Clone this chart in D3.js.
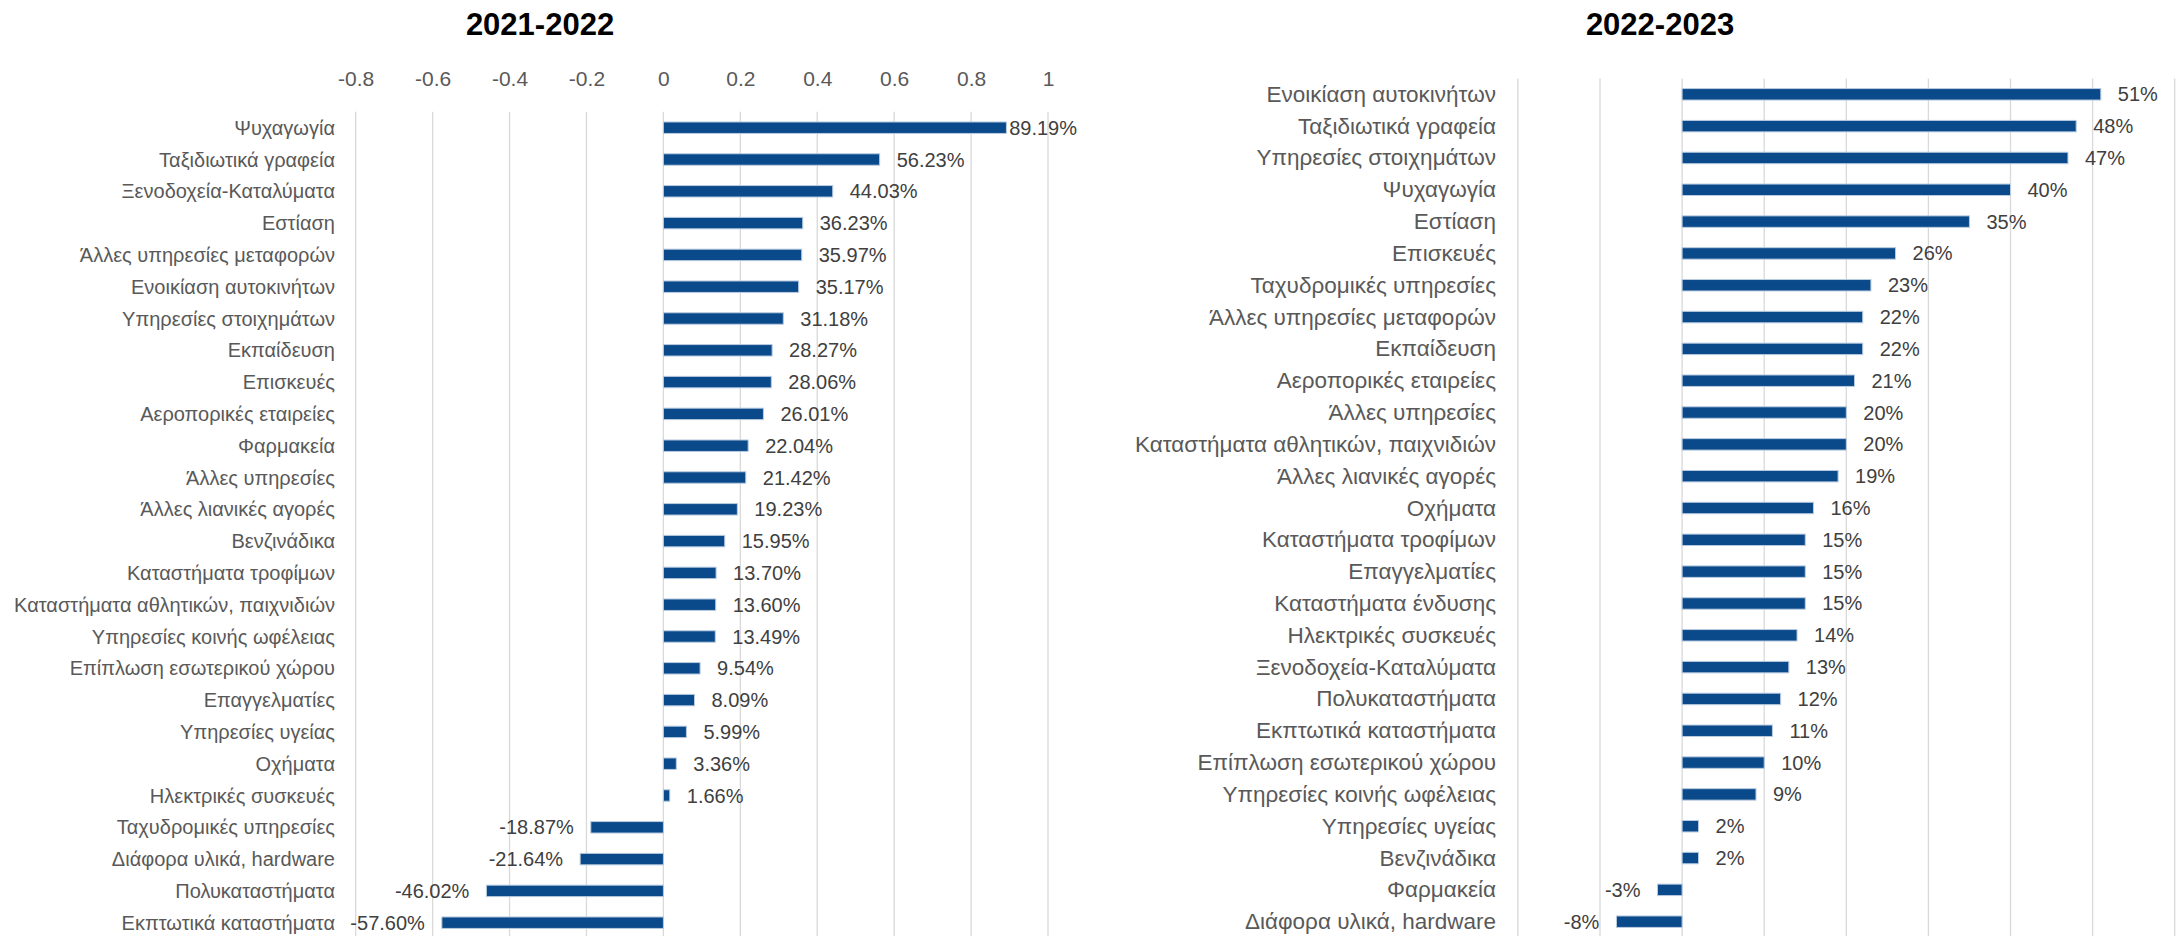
<!DOCTYPE html>
<html>
<head>
<meta charset="utf-8">
<script src="https://cdn.jsdelivr.net/npm/d3@7"></script>
<style>
  html, body { margin: 0; padding: 0; background: #fff; }
  svg { display: block; }
  text { font-family: "Liberation Sans", Arial, sans-serif; }
</style>
</head>
<body>
<svg id="chart" width="2183" height="936"></svg>
<script>
// 2021-2022: categories and year-on-year change (%)
const categories2122 = [
  "Ψυχαγωγία", "Ταξιδιωτικά γραφεία", "Ξενοδοχεία-Καταλύματα", "Εστίαση",
  "Άλλες υπηρεσίες μεταφορών", "Ενοικίαση αυτοκινήτων", "Υπηρεσίες στοιχημάτων",
  "Εκπαίδευση", "Επισκευές", "Αεροπορικές εταιρείες", "Φαρμακεία", "Άλλες υπηρεσίες",
  "Άλλες λιανικές αγορές", "Βενζινάδικα", "Καταστήματα τροφίμων",
  "Καταστήματα αθλητικών, παιχνιδιών", "Υπηρεσίες κοινής ωφέλειας",
  "Επίπλωση εσωτερικού χώρου", "Επαγγελματίες", "Υπηρεσίες υγείας", "Οχήματα",
  "Ηλεκτρικές συσκευές", "Ταχυδρομικές υπηρεσίες", "Διάφορα υλικά, hardware",
  "Πολυκαταστήματα", "Εκπτωτικά καταστήματα"
];
const values2122 = [
  89.19, 56.23, 44.03, 36.23, 35.97, 35.17, 31.18, 28.27, 28.06, 26.01, 22.04, 21.42,
  19.23, 15.95, 13.70, 13.60, 13.49, 9.54, 8.09, 5.99, 3.36, 1.66, -18.87, -21.64,
  -46.02, -57.60
];
const ticks2122 = [-0.8, -0.6, -0.4, -0.2, 0, 0.2, 0.4, 0.6, 0.8, 1];

// 2022-2023: categories and year-on-year change (%)
const categories2223 = [
  "Ενοικίαση αυτοκινήτων", "Ταξιδιωτικά γραφεία", "Υπηρεσίες στοιχημάτων", "Ψυχαγωγία",
  "Εστίαση", "Επισκευές", "Ταχυδρομικές υπηρεσίες", "Άλλες υπηρεσίες μεταφορών",
  "Εκπαίδευση", "Αεροπορικές εταιρείες", "Άλλες υπηρεσίες",
  "Καταστήματα αθλητικών, παιχνιδιών", "Άλλες λιανικές αγορές", "Οχήματα",
  "Καταστήματα τροφίμων", "Επαγγελματίες", "Καταστήματα ένδυσης", "Ηλεκτρικές συσκευές",
  "Ξενοδοχεία-Καταλύματα", "Πολυκαταστήματα", "Εκπτωτικά καταστήματα",
  "Επίπλωση εσωτερικού χώρου", "Υπηρεσίες κοινής ωφέλειας", "Υπηρεσίες υγείας",
  "Βενζινάδικα", "Φαρμακεία", "Διάφορα υλικά, hardware"
];
const values2223 = [
  51, 48, 47, 40, 35, 26, 23, 22, 22, 21, 20, 20, 19, 16, 15, 15, 15, 14, 13, 12, 11,
  10, 9, 2, 2, -3, -8
];
const grid2223 = [-0.2, -0.1, 0, 0.1, 0.2, 0.3, 0.4, 0.5, 0.6];

const BAR = "#0B4A8A";
const BAR_EDGE = "#b9cbe0";
const GRID = "#d9d9d9";
const LABEL = "#595959";
const VALUE = "#404040";

const svg = d3.select("#chart");

function drawPanel(opt) {
  const data = opt.categories.map((c, i) => ({ cat: c, v: opt.values[i] / 100 }));
  const x = d3.scaleLinear().domain(opt.domain).range(opt.xRange);
  const y = d3.scaleBand().domain(opt.categories).range(opt.yRange)
    .paddingInner(0.64).paddingOuter(0.32);
  const g = svg.append("g");

  // title
  g.append("text")
    .attr("x", opt.titleX).attr("y", 24)
    .attr("text-anchor", "middle").attr("dominant-baseline", "central")
    .style("font-size", "31px").style("font-weight", "bold").style("fill", "#000")
    .text(opt.title);

  // vertical gridlines
  g.append("g").selectAll("line").data(opt.grid).join("line")
    .attr("x1", d => x(d)).attr("x2", d => x(d))
    .attr("y1", opt.yRange[0]).attr("y2", opt.yRange[1])
    .attr("stroke", GRID).attr("stroke-width", 1.3);

  // optional top axis with tick labels
  if (opt.showAxis) {
    const axis = d3.axisTop(x).tickValues(opt.grid).tickSize(0)
      .tickFormat(d => d3.format("")(+d.toFixed(1)).replace("−", "-"));
    const ag = g.append("g").attr("transform", `translate(0,${opt.axisY})`).call(axis);
    ag.select(".domain").remove();
    ag.selectAll("text")
      .attr("dy", "0.35em").attr("y", 0)
      .style("font-size", "21px").style("fill", LABEL)
      .style("font-family", "'Liberation Sans', Arial, sans-serif");
  }

  // bars
  g.append("g").selectAll("rect").data(data).join("rect")
    .attr("x", d => x(Math.min(0, d.v)))
    .attr("width", d => Math.abs(x(d.v) - x(0)))
    .attr("y", d => y(d.cat))
    .attr("height", y.bandwidth())
    .attr("fill", BAR).attr("stroke", BAR_EDGE).attr("stroke-width", 1);

  // category labels
  g.append("g").selectAll("text").data(data).join("text")
    .attr("x", opt.labelX)
    .attr("y", d => y(d.cat) + y.bandwidth() / 2)
    .attr("text-anchor", "end").attr("dominant-baseline", "central")
    .style("font-size", opt.labelSize).style("fill", LABEL)
    .text(d => d.cat);

  // value labels
  const fmt = d3.format(opt.valueFormat);
  g.append("g").selectAll("text").data(data).join("text")
    .attr("y", d => y(d.cat) + y.bandwidth() / 2)
    .attr("dominant-baseline", "central")
    .style("font-size", "20px").style("fill", VALUE)
    .text(d => fmt(d.v).replace("−", "-"))
    .each(function (d) {
      const t = d3.select(this);
      if (d.v >= 0) {
        const w = this.getComputedTextLength();
        let start = x(d.v) + 17;
        if (start + w > opt.maxRight) start = opt.maxRight - w;
        t.attr("x", start).attr("text-anchor", "start");
      } else {
        t.attr("x", x(d.v) - 17).attr("text-anchor", "end");
      }
    });
}

drawPanel({
  title: "2021-2022", titleX: 540,
  categories: categories2122, values: values2122,
  domain: [-0.8, 1], xRange: [355.7, 1048],
  yRange: [111.8, 938.6],
  grid: ticks2122, showAxis: true, axisY: 79,
  labelX: 335, labelSize: "20px", valueFormat: ".2%", maxRight: 1077
});

drawPanel({
  title: "2022-2023", titleX: 1660,
  categories: categories2223, values: values2223,
  domain: [-0.2, 0.6], xRange: [1517.9, 2174.7],
  yRange: [78.4, 937.6],
  grid: grid2223, showAxis: false,
  labelX: 1496, labelSize: "22.5px", valueFormat: ".0%", maxRight: 2183
});
</script>
</body>
</html>
